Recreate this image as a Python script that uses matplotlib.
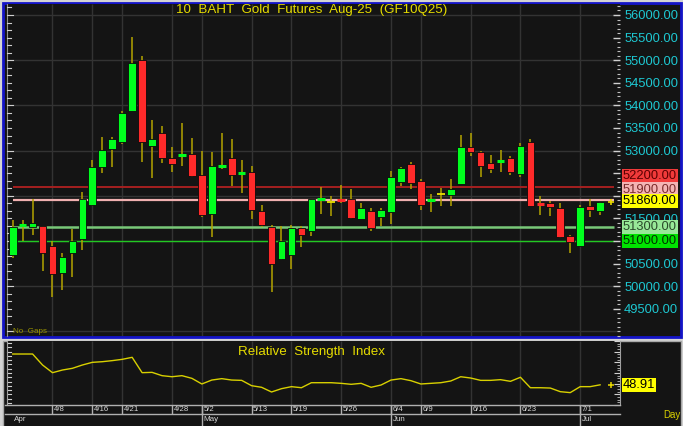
import matplotlib
matplotlib.use('Agg')
import matplotlib.pyplot as plt
import matplotlib.transforms as mtransforms
from matplotlib.patches import Rectangle
import numpy as np

plt.rcParams['font.family'] = ['Liberation Sans', 'DejaVu Sans']

# ---------------- data ----------------
dates = ['4/1', '4/2', '4/3', '4/4', '4/8', '4/9', '4/10', '4/11', '4/16', '4/17',
         '4/18', '4/21', '4/22', '4/23', '4/24', '4/25', '4/28', '4/29', '4/30',
         '5/2', '5/6', '5/7', '5/8', '5/9', '5/13', '5/14', '5/15', '5/16',
         '5/19', '5/20', '5/21', '5/22', '5/23', '5/26', '5/27', '5/28', '5/29', '5/30',
         '6/4', '6/5', '6/6', '6/9', '6/10', '6/11', '6/12', '6/13', '6/16', '6/17',
         '6/18', '6/19', '6/20', '6/23', '6/24', '6/25', '6/26', '6/27', '6/30',
         '7/1', '7/2', '7/3']

opens = [50700, 51340, 51300, 51330, 50900, 50285, 50740, 51045, 51800, 52630,
         53030, 53185, 53880, 55010, 53110, 53385, 52835, 52880, 52925, 52460,
         51605, 52645, 52830, 52500, 52535, 51655, 51315, 50600, 50685, 51290,
         51230, 51925, 51855, 51935, 51930, 51490, 51665, 51525, 51640, 52305,
         52695, 52335, 51870, 52030, 52025, 52260, 53080, 52975, 52720, 52750,
         52835, 52480, 53195, 51840, 51835, 51725, 51105, 50885, 51775, 51665]
highs = [51460, 51465, 51920, 51340, 50990, 50730, 51260, 52080, 52790, 53290,
         53290, 53870, 55520, 55100, 53680, 53545, 53080, 53605, 53285, 53000,
         52960, 53385, 53255, 52790, 52660, 51790, 51350, 51340, 51360, 51325,
         51930, 52190, 51995, 52240, 52145, 51835, 51735, 51735, 52550, 52645,
         52750, 52380, 52040, 52175, 52365, 53345, 53385, 53000, 52895, 53005,
         52880, 53175, 53255, 52000, 51890, 51845, 51135, 51795, 51930, 51865]
lows = [50620, 51000, 51130, 50330, 49770, 49920, 50210, 50800, 51780, 52500,
        52640, 53140, 53870, 52755, 52400, 52720, 52520, 52665, 52420, 51525,
        51080, 52595, 52225, 52055, 51480, 51300, 49880, 50580, 50380, 50860,
        51110, 51605, 51560, 51845, 51495, 51485, 51220, 51340, 51385, 52225,
        52145, 51685, 51640, 51775, 51775, 52255, 52880, 52425, 52500, 52535,
        52465, 52425, 51775, 51570, 51560, 51070, 50740, 50880, 51540, 51580]
closes = [51300, 51360, 51400, 50730, 50270, 50640, 50990, 51935, 52640, 53010,
          53260, 53830, 54930, 53185, 53260, 52845, 52705, 52925, 52440, 51575,
          52660, 52695, 52465, 52510, 51690, 51350, 50485, 50995, 51295, 51140,
          51920, 51945, 51855, 51890, 51500, 51735, 51295, 51685, 52415, 52615,
          52290, 51805, 51925, 52030, 52155, 53080, 52960, 52665, 52600, 52775,
          52525, 53100, 51780, 51800, 51760, 51095, 50970, 51760, 51685, 51860]

rsi = [77.8, 77.8, 77.8, 67.5, 60.3, 62.8, 64.4, 67.5, 70.0, 70.6,
       71.6, 72.8, 74.7, 60.3, 60.6, 57.5, 56.5, 57.5, 55.0, 49.7,
       53.4, 54.7, 53.4, 53.1, 48.1, 46.6, 42.2, 45.3, 47.2, 46.2,
       50.9, 50.9, 50.9, 50.3, 49.4, 50.3, 46.6, 48.75, 53.4, 54.7,
       52.8, 49.7, 50.3, 50.9, 52.5, 56.5, 55.3, 53.1, 53.1, 53.75,
       52.2, 56.0, 46.2, 46.2, 45.9, 42.5, 41.6, 47.2, 47.2, 48.91]

tick_dates = ['4/8', '4/16', '4/21', '4/28', '5/2', '5/13', '5/19', '5/26',
              '6/4', '6/9', '6/16', '6/23', '7/1']
month_names = ['Apr', 'May', 'Jun', 'Jul']
month_start = ['4/1', '5/2', '6/4', '7/1']

price_ticks = list(range(49500, 56001, 500))
levels = [52200, 51900, 51860, 51300, 51000]
level_labels = ['52200.00', '51900.00', '51860.00', '51300.00', '51000.00']
title = '10  BAHT  Gold  Futures  Aug-25  (GF10Q25)'
rsi_title = 'Relative  Strength  Index'

# ---------------- figure ----------------
W, H = 683, 426
fig = plt.figure(figsize=(W / 100, H / 100), dpi=100, facecolor='#d4d4d4')


def rect(l, t, r, b):
    return [l / W, 1 - b / H, (r - l) / W, (b - t) / H]


bg = fig.add_axes([0, 0, 1, 1], zorder=-10)
bg.set_xlim(0, W)
bg.set_ylim(H, 0)
bg.axis('off')
bg.add_patch(Rectangle((0, 0), W, H, fc='#d4d4d4', ec='none'))
bg.add_patch(Rectangle((2.5, 2.5), 678.5, 334, fc='#141414', ec='#1414c8', lw=2))
bg.add_patch(Rectangle((2.5, 340.5), 678.5, 86, fc='#141414', ec='#a8a8a8', lw=1))

BG = '#141414'
GRID = '#333333'
x_idx = np.arange(len(dates))
tick_idx = [dates.index(d) for d in tick_dates]
XL = (-0.57, 61.0)

# ---------- main price panel ----------
ax = fig.add_axes(rect(7, 4, 620, 336))
ax.set_facecolor(BG)
ax.set_xlim(*XL)
ax.set_ylim(48898, 56243)
for s in ax.spines.values():
    s.set_visible(False)
ax.set_xticks([])
ax.yaxis.tick_right()
ax.set_yticks(price_ticks)
ax.set_yticklabels([f'{v:.2f}' for v in price_ticks])
ax.set_yticks(np.arange(48900, 56201, 100), minor=True)
ax.tick_params(axis='y', which='major', direction='in', length=5, width=1,
               color='#d0d0d0', labelcolor='#1ec8d2', labelsize=9.3, pad=3)
ax.tick_params(axis='y', which='minor', direction='in', length=2.5, width=0.8,
               color='#c0c0c0')

# left ruler ticks
left_ticks = np.arange(49000, 56201, 500 / 3)
for v in left_ticks:
    major = abs((v / 1000) - round(v / 1000)) < 1e-6
    ax.plot([0, 0.006 if not major else 0.01], [v, v], transform=ax.get_yaxis_transform(),
            color='#d0d0d0', lw=0.8, clip_on=False, zorder=3)
ax.plot([0, 0], [0, 1], transform=ax.transAxes, color='#909090', lw=0.8, clip_on=False)

# grid
ax.vlines(tick_idx, 48898, 56243, color=GRID, lw=1, zorder=0)
ax.hlines(np.arange(49000, 56001, 1000), XL[0], XL[1], color=GRID, lw=1, zorder=0)

# level lines
ax.hlines(52200, 0, 60.4, color='#a52020', lw=1.4, zorder=1)
ax.hlines(51900, 0, 60.4, color='#f0b0b0', lw=1.6, zorder=1)
ax.hlines(51300, 0, 60.4, color='#78c878', lw=1.8, zorder=1)
ax.hlines(51000, 0, 60.4, color='#22c822', lw=1.0, zorder=1)

# candles
GREEN = '#00ff1e'
RED = '#ff2a2a'
WICK = '#b4a400'
bw = 0.77
for i in x_idx:
    o, h, l, c = opens[i], highs[i], lows[i], closes[i]
    ax.vlines(i, l, h, color=WICK, lw=1.1, zorder=2)
    if c == o:
        ax.hlines(c, i - bw / 2, i + bw / 2, color='#e8e000', lw=1.3, zorder=3)
        continue
    col = GREEN if c > o else RED
    if abs(c - o) < 70:
        ax.hlines((o + c) / 2, i - bw / 2, i + bw / 2, color=col, lw=2.2, zorder=3)
    else:
        ax.bar(i, c - o, bottom=o, width=bw, color=col, edgecolor='#0a0a0a',
               linewidth=0.6, zorder=3)

# last price marker
ax.plot(60.05, closes[-1], marker='+', color='#e8d800', ms=5, mew=1.2,
        clip_on=False, zorder=5)

# level label boxes
box_styles = [('#f03a3a', '#5a0000', -10.3),
              ('#f4b4b4', '#7a2a2a', -10.8),
              ('#ffff00', '#000000', -0.7),
              ('#98e898', '#2a4a2a', 0.0),
              ('#00e400', '#003000', 0.0)]
trans_base = mtransforms.blended_transform_factory(ax.transAxes, ax.transData)
for lv, lab, (fc, tc, dy) in zip(levels, level_labels, box_styles):
    tr = mtransforms.offset_copy(trans_base, fig=fig, x=0, y=-dy, units='dots')
    ax.text(1.0049, lv, lab, transform=tr, ha='left', va='center', fontsize=9.3,
            color=tc, clip_on=False, zorder=20,
            bbox=dict(boxstyle='square,pad=0.08', fc=fc, ec='none'))

# title and note
fig.text(312 / W, 1 - 10.5 / H, title, ha='center', va='center', fontsize=9.6,
         color='#e6dc00')
fig.text(13 / W, 1 - 331.5 / H, 'No  Gaps', ha='left', va='center', fontsize=5.8,
         color='#9a9400')

# ---------- RSI panel ----------
rax = fig.add_axes(rect(7, 341, 620, 405), sharex=ax)
rax.set_facecolor(BG)
rax.set_ylim(30, 90)
for s in rax.spines.values():
    s.set_visible(False)
rax.tick_params(axis='x', which='both', bottom=False, labelbottom=False)
rax.yaxis.tick_right()
rax.set_yticks(np.arange(30, 91, 10))
rax.set_yticklabels([])
rax.set_yticks(np.arange(30, 91, 2.5), minor=True)
rax.tick_params(axis='y', which='major', direction='in', length=4, color='#d0d0d0')
rax.tick_params(axis='y', which='minor', direction='in', length=2, color='#c0c0c0')
for v in np.arange(32, 90, 4):
    rax.plot([0, 0.006], [v, v], transform=rax.get_yaxis_transform(),
             color='#d0d0d0', lw=0.8, clip_on=False)
rax.plot([0, 0], [0, 1], transform=rax.transAxes, color='#a0a0a0', lw=0.8, clip_on=False)
rax.plot([1.0, 1.0], [0, 1], transform=rax.transAxes, color='#a0a0a0', lw=0.8, clip_on=False)
rax.vlines(tick_idx, 30, 90, color=GRID, lw=1, zorder=0)
rax.plot(x_idx, rsi, color='#d8d000', lw=1.0, zorder=3)
rax.plot(60.05, rsi[-1], marker='+', color='#e8d800', ms=4.5, mew=1.1,
         clip_on=False, zorder=5)
rax.text(1.0049, rsi[-1], f'{rsi[-1]:.2f}', transform=rax.get_yaxis_transform(),
         ha='left', va='center', fontsize=9.3, color='#000000', clip_on=False,
         bbox=dict(boxstyle='square,pad=0.08', fc='#ffff00', ec='none'), zorder=20)
rax.text(0.496, 0.83, rsi_title, transform=rax.transAxes, ha='center', va='center',
         fontsize=9.6, color='#e6dc00')

# ---------- date rows ----------
dax = fig.add_axes(rect(7, 405, 620, 413.5), sharex=ax)
dax.set_facecolor(BG)
dax.set_ylim(0, 1)
dax.axis('off')
dax.plot([XL[0] - 0.2, XL[1]], [1, 1], color='#b0b0b0', lw=1, clip_on=False)
dax.plot([XL[0] - 0.2, XL[1]], [0, 0], color='#b0b0b0', lw=1, clip_on=False)
dax.vlines(tick_idx, 0, 1, color='#b0b0b0', lw=1)
for d, i in zip(tick_dates, tick_idx):
    dax.text(i + 0.15, 0.45, d, ha='left', va='center', fontsize=5.6, color='#d8d8d8')

max_ = fig.add_axes(rect(7, 413.5, 620, 426), sharex=ax)
max_.set_facecolor(BG)
max_.set_ylim(0, 1)
max_.axis('off')
month_idx = [dates.index(d) for d in month_start]
max_.vlines(month_idx[1:], 0, 1, color='#b0b0b0', lw=1)
dax.vlines(month_idx[1:], 0, 1, color='#b0b0b0', lw=1)
for m, i in zip(month_names, month_idx):
    max_.text(i + 0.15, 0.55, m, ha='left', va='center', fontsize=5.8, color='#d8d8d8')

fig.text(663 / W, 1 - 415 / H, 'Day', ha='left', va='center', fontsize=7,
         color='#d8d000')

fig.savefig('out.png', dpi=100, facecolor=fig.get_facecolor())
